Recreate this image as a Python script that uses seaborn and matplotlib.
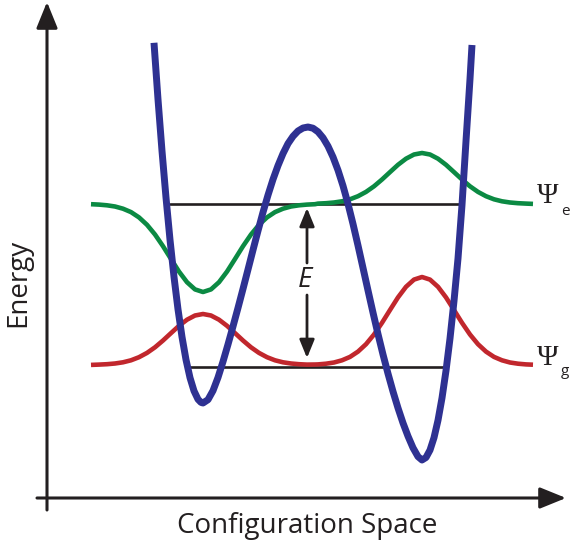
import matplotlib
matplotlib.use("Agg")
import matplotlib.pyplot as plt
import seaborn as sns

sns.set_style("white")
plt.rcParams['font.family'] = ['Open Sans', 'DejaVu Sans']

# ---- data (configuration coordinate, energy) ----
pot_x = [154, 158, 162, 166, 170, 174, 178, 182, 186, 190, 194, 198, 201, 203,
         208, 213, 218, 223, 228, 233, 238, 243, 248, 253, 258, 263, 268, 273, 278, 283,
         288, 293, 298, 303, 308,
         313, 318, 323, 328, 333, 338, 343, 348, 353, 358, 363, 368, 373, 378, 383, 388,
         393, 398, 403, 408, 413, 418, 422,
         426, 430, 434, 438, 442, 446, 450, 454, 458, 462, 466, 470, 472]
pot_e = [502.2, 445.7, 394.1, 347.4, 305.3, 268.1, 235.7, 208.1, 185.3, 167.3, 154.1, 145.7, 142.6, 142.0,
         145.3, 154.3, 167.5, 183.4, 200.6, 218.6, 237.1, 256.1, 275.5, 295.0, 314.2, 332.7, 349.9, 365.6, 379.4, 391.4,
         401.4, 408.7, 414.0, 417.0, 418.0,
         416.8, 413.2, 407.2, 398.8, 388.0, 374.8, 359.2, 341.2, 321.1, 299.5, 277.1, 254.6, 232.4, 210.9, 190.5, 171.4,
         153.5, 137.0, 122.0, 108.8, 97.2, 88.4, 85.0,
         87.5, 94.9, 107.3, 124.7, 147.0, 174.3, 206.5, 244.0, 286.5, 340.0, 404.0, 466.0, 500.0]

psi_e_x = [91, 99, 107, 115, 123, 131, 139, 147, 155, 163, 171, 179, 187, 195, 203, 211, 219, 227,
           235, 243, 251, 259, 267, 275, 283, 291, 299, 307, 315,
           318, 326, 334, 342, 350, 358, 366, 374, 382, 390, 398, 406, 414, 422, 430, 438, 446,
           454, 462, 470, 478, 486, 494, 502, 510, 518, 526, 533]
psi_e_v = [340.8, 340.4, 339.7, 338.5, 336.3, 332.9, 327.6, 320.2, 310.5, 298.8, 286.0, 273.4, 262.8,
           255.6, 253.0, 255.6, 262.8, 273.4, 286.0, 298.8, 310.5, 320.2, 327.6, 332.9, 336.3, 338.5,
           339.7, 340.4, 340.8,
           341.4, 341.8, 342.5, 343.7, 345.7, 348.8, 353.1, 358.7, 365.5, 372.9, 380.2, 386.3, 390.5,
           392.0, 390.5, 386.3, 380.2, 372.9, 365.5, 358.7, 353.1, 348.8, 345.7, 343.7, 342.5, 341.8,
           341.4, 341.1]

psi_g_x = [91, 99, 107, 115, 123, 131, 139, 147, 155, 163, 171, 179, 187, 195, 203, 211, 219, 227,
           235, 243, 251, 259, 267, 275, 283, 291, 299, 307, 315,
           318, 326, 334, 342, 350, 358, 366, 374, 382, 390, 398, 406, 414, 422, 430, 438, 446,
           454, 462, 470, 478, 486, 494, 502, 510, 518, 526, 533]
psi_g_v = [180.1, 180.4, 180.8, 181.5, 182.7, 184.7, 187.8, 192.1, 197.7, 204.5, 211.9, 219.2, 225.3,
           229.5, 231.0, 229.5, 225.3, 219.2, 211.9, 204.5, 197.7, 192.1, 187.8, 184.7, 182.7, 181.5,
           180.8, 180.4, 180.5,
           180.6, 181.3, 182.5, 184.7, 188.1, 193.4, 200.8, 210.5, 222.2, 235.0, 247.6, 258.2, 265.4,
           268.0, 265.4, 258.2, 247.6, 235.0, 222.2, 210.5, 200.8, 193.4, 188.1, 184.7, 182.5, 181.3,
           180.6, 180.3]

level_e_x = [170, 459]
level_e_v = [341, 341]
level_g_x = [189, 443]
level_g_v = [178, 178]

labels = {"x": "Configuration Space", "y": "Energy", "gap": "E",
          "psi": "\u03A8", "sub_e": "e", "sub_g": "g"}

BLUE = "#2e3192"
GREEN = "#0b8a43"
RED = "#c1272d"
INK = "#231f20"

fig = plt.figure(figsize=(5.7, 5.45), dpi=100)
ax = fig.add_axes([0, 0, 1, 1])
ax.set_xlim(0, 570)
ax.set_ylim(0, 545)
ax.axis("off")

# energy levels
sns.lineplot(x=level_e_x, y=level_e_v, sort=False, estimator=None, color=INK, linewidth=1.9, ax=ax)
sns.lineplot(x=level_g_x, y=level_g_v, sort=False, estimator=None, color=INK, linewidth=1.9, ax=ax)

# wavefunctions
sns.lineplot(x=psi_e_x, y=psi_e_v, sort=False, estimator=None, color=GREEN, linewidth=3.3,
             solid_capstyle="butt", solid_joinstyle="round", ax=ax)
sns.lineplot(x=psi_g_x, y=psi_g_v, sort=False, estimator=None, color=RED, linewidth=3.3,
             solid_capstyle="butt", solid_joinstyle="round", ax=ax)

# potential
sns.lineplot(x=pot_x, y=pot_e, sort=False, estimator=None, color=BLUE, linewidth=5.0,
             solid_capstyle="butt", solid_joinstyle="round", ax=ax)

# axes arrows
ax.annotate("", xy=(47, 543), xytext=(47, 35),
            arrowprops=dict(arrowstyle="-|>,head_length=1.6,head_width=0.65", lw=2.2,
                            color=INK, shrinkA=0, shrinkB=0, mutation_scale=10))
ax.annotate("", xy=(566, 47), xytext=(37, 47),
            arrowprops=dict(arrowstyle="-|>,head_length=1.6,head_width=0.65", lw=2.2,
                            color=INK, shrinkA=0, shrinkB=0, mutation_scale=10))

# E gap arrows
ax.annotate("", xy=(307, 337), xytext=(307, 282),
            arrowprops=dict(arrowstyle="-|>,head_length=1.1,head_width=0.45", lw=2.0,
                            color=INK, shrinkA=0, shrinkB=0, mutation_scale=10))
ax.annotate("", xy=(307, 187), xytext=(307, 250),
            arrowprops=dict(arrowstyle="-|>,head_length=1.1,head_width=0.45", lw=2.0,
                            color=INK, shrinkA=0, shrinkB=0, mutation_scale=10))
ax.text(305, 265, labels["gap"], fontsize=20, style="italic", color=INK,
        ha="center", va="center")

# axis labels
ax.text(307, 12, labels["x"], fontsize=20, color=INK, ha="center", va="baseline")
ax.text(18, 262, labels["y"], fontsize=20, color=INK, ha="center", va="center", rotation=90)

# psi labels
ax.text(537, 342, labels["psi"], fontsize=21, family="Liberation Serif", color=INK,
        ha="left", va="baseline")
ax.text(561, 330, labels["sub_e"], fontsize=11, color=INK, ha="left", va="baseline")
ax.text(537, 180, labels["psi"], fontsize=21, family="Liberation Serif", color=INK,
        ha="left", va="baseline")
ax.text(561, 170, labels["sub_g"], fontsize=11, color=INK, ha="left", va="baseline")

fig.savefig("out.png", dpi=100)
